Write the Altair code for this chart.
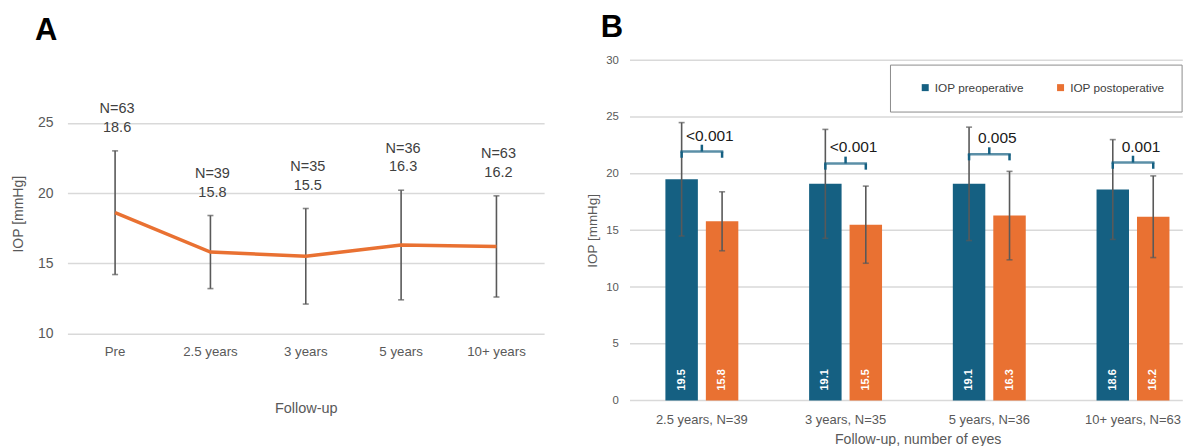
import altair as alt
import pandas as pd

# ---------------- data ----------------
# Panel A
a_periods = ["Pre", "2.5 years", "3 years", "5 years", "10+ years"]
a_mean = [18.6, 15.8, 15.5, 16.3, 16.2]
a_sd = [4.4, 2.6, 3.4, 3.9, 3.6]
a_n = [63, 39, 35, 36, 63]
a_ticks = [10, 15, 20, 25]

# Panel B
b_periods = ["2.5 years, N=39", "3 years, N=35", "5 years, N=36", "10+ years, N=63"]
b_groups = ["IOP preoperative", "IOP postoperative"]
b_pre_mean = [19.5, 19.1, 19.1, 18.6]
b_pre_sd = [5.0, 4.8, 5.0, 4.4]
b_post_mean = [15.8, 15.5, 16.3, 16.2]
b_post_sd = [2.6, 3.4, 3.9, 3.6]
b_p_values = ["<0.001", "<0.001", "0.005", "0.001"]
b_bracket_level = [21.95, 20.9, 21.72, 20.98]
b_ticks = [0, 5, 10, 15, 20, 25, 30]

ORANGE = "#E97132"
BLUE = "#156082"
GRAY = "#595959"
DARK = "#404040"
GRID = "#D9D9D9"
FONT = "Liberation Sans"

# ---------------- tables ----------------
df_a = pd.DataFrame({"period": a_periods, "mean": a_mean, "sd": a_sd, "n": a_n})
df_a["lower"] = df_a["mean"] - df_a["sd"]
df_a["upper"] = df_a["mean"] + df_a["sd"]
df_a["n_label"] = ["N=%d" % n for n in a_n]
df_a["m_label"] = ["%.1f" % m for m in a_mean]

rows = []
for i, p in enumerate(b_periods):
    for g, m, s in ((b_groups[0], b_pre_mean[i], b_pre_sd[i]),
                    (b_groups[1], b_post_mean[i], b_post_sd[i])):
        rows.append({"period": p, "group": g, "mean": m, "lower": m - s,
                     "upper": m + s, "label": "%.1f" % m})
df_b = pd.DataFrame(rows)
df_p = pd.DataFrame({"period": b_periods, "p": b_p_values, "level": b_bracket_level})
df_ends = df_b[["period", "group"]].merge(df_p, on="period")
df_bgrid = pd.DataFrame({"v": b_ticks})

# ---------------- panel A ----------------
xa = alt.X("period:N", sort=a_periods,
           scale=alt.Scale(paddingInner=0, paddingOuter=0),
           axis=alt.Axis(title="Follow-up", labelAngle=0, domain=False, ticks=False,
                         tickSize=0, grid=False, labelFontSize=13.3, labelColor=GRAY,
                         labelPadding=11, titleFontSize=14.5, titleColor=GRAY,
                         titleFontWeight="normal", titlePadding=44))
ya_scale = alt.Scale(domain=[10, 29.451], nice=False, zero=False)
ya_axis = alt.Axis(title="IOP [mmHg]", values=a_ticks, domain=False,
                   ticks=False, tickSize=0, grid=True, gridColor=GRID, gridWidth=1.5,
                   labelFontSize=14, labelColor=GRAY, labelPadding=14.4,
                   titleFontSize=14, titleColor=GRAY, titleFontWeight="normal",
                   titlePadding=12.2, titleY=153.7)


def ya(field):
    return alt.Y(field, scale=ya_scale, axis=ya_axis)


base_a = alt.Chart(df_a).encode(x=xa)
err_a = base_a.mark_rule(color=GRAY, strokeWidth=1.6).encode(y=ya("lower:Q"), y2="upper:Q")
cap_lo_a = base_a.mark_tick(color=GRAY, thickness=1.6, size=6, orient="horizontal").encode(y=ya("lower:Q"))
cap_hi_a = base_a.mark_tick(color=GRAY, thickness=1.6, size=6, orient="horizontal").encode(y=ya("upper:Q"))
line_a = base_a.mark_line(color=ORANGE, strokeWidth=3.5).encode(y=ya("mean:Q"))
nlab_a = base_a.mark_text(fontSize=14.5, color=DARK, baseline="middle", dx=2, dy=-41.5).encode(
    y=ya("upper:Q"), text="n_label:N")
mlab_a = base_a.mark_text(fontSize=14.5, color=DARK, baseline="middle", dx=2, dy=-23).encode(
    y=ya("upper:Q"), text="m_label:N")

panel_a = alt.layer(err_a, cap_lo_a, cap_hi_a, line_a, nlab_a, mlab_a).properties(
    width=477.3, height=273.7,
    title=alt.TitleParams(text="A", anchor="start", frame="group", fontSize=31,
                          fontWeight="bold", color="black", dx=-32.4, offset=-10.5,
                          baseline="alphabetic", font=FONT))

# ---------------- panel B ----------------
# band layout: step 143.9 px, first band centre half a step from the left edge,
# the last band running up to the right edge of the (cropped) plot area
xb = alt.X("period:N", sort=b_periods,
           scale=alt.Scale(paddingInner=0.307, paddingOuter=0.07675, align=1),
           axis=alt.Axis(title="Follow-up, number of eyes", labelAngle=0, domain=False,
                         ticks=False, tickSize=0, grid=False, labelFontSize=13,
                         labelColor=GRAY, labelPadding=12.7, titleFontSize=14.15,
                         titleColor=GRAY, titleFontWeight="normal", titlePadding=6,
                         titleX=288))
xoff = alt.XOffset("group:N", sort=b_groups,
                   scale=alt.Scale(paddingInner=0.1975, paddingOuter=0.3296))
yb_scale = alt.Scale(domain=[0, 30], nice=False, zero=True)
yb_axis = alt.Axis(title="IOP [mmHg]", values=b_ticks, domain=False,
                   ticks=False, tickSize=0, grid=False,
                   labelFontSize=11.4, labelColor=GRAY, labelPadding=11.6,
                   titleFontSize=13.5, titleColor=GRAY, titleFontWeight="normal",
                   titlePadding=6)


def yb(field):
    return alt.Y(field, scale=yb_scale, axis=yb_axis)


legend_b = alt.Legend(
    orient="none", legendX=260.3, legendY=4.4, direction="horizontal",
    title="\u00a0", titleOrient="left", titlePadding=12.4, titleFontSize=12,
    padding=17, strokeColor="#8c8c8c", symbolType="square", symbolSize=49,
    symbolStrokeWidth=0, labelFontSize=11.8, labelColor=DARK, labelOffset=3.7,
    columnPadding=30.5)

grid_b = alt.Chart(df_bgrid).mark_rule(color=GRID, strokeWidth=1.5).encode(y=yb("v:Q"))
bars = alt.Chart(df_b).mark_bar().encode(
    x=xb, xOffset=xoff, y=yb("mean:Q"),
    color=alt.Color("group:N", sort=b_groups,
                    scale=alt.Scale(domain=b_groups, range=[BLUE, ORANGE]),
                    legend=legend_b))
err_b = alt.Chart(df_b).mark_rule(color=GRAY, strokeWidth=1.6).encode(
    x=xb, xOffset=xoff, y=yb("lower:Q"), y2="upper:Q")
cap_lo_b = alt.Chart(df_b).mark_tick(color=GRAY, thickness=1.6, size=6, orient="horizontal").encode(
    x=xb, xOffset=xoff, y=yb("lower:Q"))
cap_hi_b = alt.Chart(df_b).mark_tick(color=GRAY, thickness=1.6, size=6, orient="horizontal").encode(
    x=xb, xOffset=xoff, y=yb("upper:Q"))
vals_b = alt.Chart(df_b).transform_calculate(zero="0").mark_text(
    angle=270, align="left", baseline="middle", dx=10, color="white",
    fontWeight="bold", fontSize=11).encode(
    x=xb, xOffset=xoff, y=yb("zero:Q"), text="label:N")

brace = alt.Chart(df_p).mark_tick(color=BLUE, thickness=2.5, size=43, orient="horizontal").encode(
    x=xb, y=yb("level:Q"))
brace_mid = alt.Chart(df_p).transform_calculate(up="datum.level + 0.6").mark_rule(
    color=BLUE, strokeWidth=2.5).encode(x=xb, y=yb("level:Q"), y2="up:Q")
brace_ends = alt.Chart(df_ends).transform_calculate(dn="datum.level - 0.55").mark_rule(
    color=BLUE, strokeWidth=2.5).encode(x=xb, xOffset=xoff, y=yb("level:Q"), y2="dn:Q")
ptext = alt.Chart(df_p).mark_text(fontSize=15.5, color="#1a1a1a", baseline="middle",
                                  dx=8, dy=-16).encode(x=xb, y=yb("level:Q"), text="p:N")

panel_b = alt.layer(grid_b, bars, err_b, cap_lo_b, cap_hi_b, vals_b, brace, brace_mid,
                    brace_ends, ptext).properties(
    width=553.5, height=340.7,
    title=alt.TitleParams(text="B", anchor="start", frame="group", fontSize=31,
                          fontWeight="bold", color="black", dx=-29.3, offset=-14,
                          baseline="alphabetic", font=FONT))

chart = alt.hconcat(panel_a, panel_b, spacing=85.3, bounds="flush").resolve_scale(
    color="independent").resolve_legend(color="independent").properties(
    padding={"left": 2.5, "top": 4, "right": 0, "bottom": 0},
    background="white",
).configure(font=FONT).configure_view(strokeWidth=0)

chart.save("out.html", embed_options={"renderer": "svg", "actions": False})
